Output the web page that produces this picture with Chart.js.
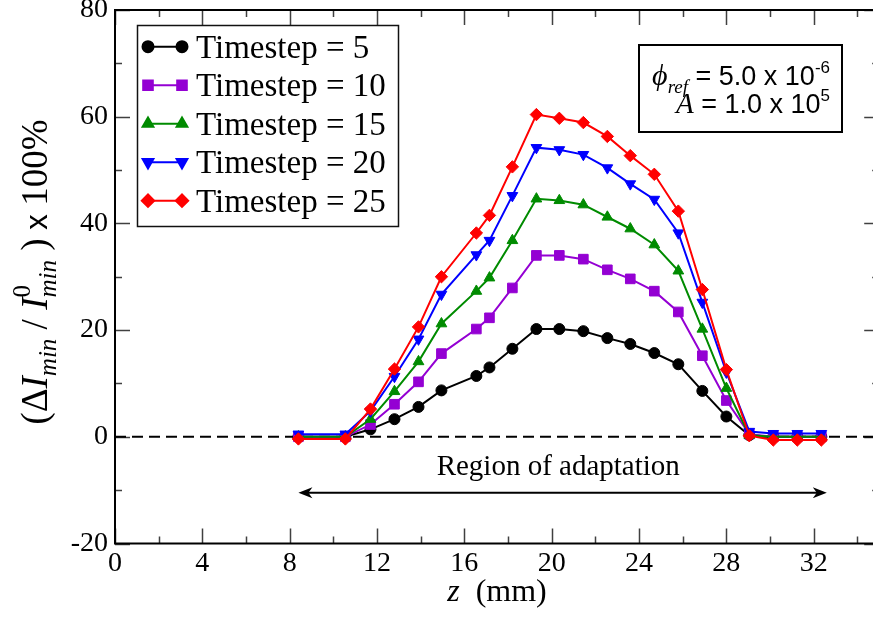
<!DOCTYPE html>
<html>
<head>
<meta charset="utf-8">
<title>Region of adaptation</title>
<script src="https://cdn.jsdelivr.net/npm/chart.js@4.4.1/dist/chart.umd.min.js"></script>
<style>
html,body{margin:0;padding:0;background:#fff;overflow:hidden}
#wrap{width:887px;height:617px}
</style>
</head>
<body>
<div id="wrap"><canvas id="grafica" width="887" height="617"></canvas></div>
<script>
// posiciones z (mm) y porcentaje para cada timestep
const zPos = [8.4,10.55,11.7,12.8,13.9,14.95,16.55,17.15,18.2,19.3,20.35,21.45,22.55,23.6,24.7,25.8,26.9,28.0,29.05,30.15,31.25,32.35]
const ts5 = [0,0,1.4,3.3,5.6,8.7,11.4,13.0,16.5,20.2,20.2,19.8,18.5,17.4,15.7,13.6,8.6,3.8,0.3,0,0,0]
const ts10 = [0,0,2.3,6.1,10.3,15.6,20.2,22.3,27.9,34.0,34.0,33.3,31.3,29.6,27.3,23.4,15.2,6.8,0.5,0,0,0]
const ts15 = [0,0,3.3,8.5,14.1,21.2,27.3,29.8,36.8,44.6,44.3,43.5,41.2,39.0,36.0,31.1,20.2,9.1,0.3,0,0,0]
const ts20 = [0.5,0.5,4.8,11.3,18.3,26.7,34.1,36.8,45.2,54.2,53.8,52.9,50.4,47.4,44.5,38.2,25.2,12.1,1.0,0.6,0.6,0.6]
const ts25 = [-0.4,-0.4,5.2,12.7,20.6,30.0,38.2,41.5,50.6,60.4,59.7,58.9,56.3,52.7,49.2,42.3,27.6,12.6,0.2,-0.6,-0.6,-0.6]

const etiquetas = ["Timestep = 5","Timestep = 10","Timestep = 15","Timestep = 20","Timestep = 25"]
const colores = ["#000000","#9400d3","#008b00","#0000ff","#ff0000"]
const marcadores = ["circle","rect","triangle","triangle","rectRot"]
const giros = [0,0,0,180,0]
const radios = [5.5,6.8,6.2,6.2,6.2]

// flecha de la region de adaptacion
const regionDesde = 8.4
const regionHasta = 32.6
const regionY = -10.5
const regionTexto = "Region of adaptation"

const SERIF = "'Liberation Serif','Times New Roman',serif"
const SANS = "'Liberation Sans',Arial,sans-serif"

const valores = [ts5,ts10,ts15,ts20,ts25]

const datasets = valores.map((serie,i)=>({
label:etiquetas[i],
data:zPos.map((z,j)=>({x:z,y:serie[j]})),
borderColor:colores[i],
backgroundColor:colores[i],
pointBackgroundColor:colores[i],
pointBorderColor:colores[i],
pointBorderWidth:1,
borderWidth:2,
pointStyle:marcadores[i],
pointRotation:giros[i],
pointRadius:radios[i],
order:5-i,
tension:0
}))

// linea discontinua en cero
datasets.push({
label:"cero",
data:[{x:0,y:0},{x:35,y:0}],
borderColor:"#000",
borderWidth:2,
borderDash:[11,6],
pointRadius:0,
order:10
})

// texto con subindices / superindices
function medir(ctx,partes){
let total = 0
partes.forEach(p=>{
if(p.pila){
let w = 0
p.pila.forEach(q=>{ctx.font=q.font; w=Math.max(w,ctx.measureText(q.t).width)})
total += w
}else{
ctx.font = p.font
total += ctx.measureText(p.t).width
}
})
return total
}

function escribir(ctx,partes,x,y){
let cx = x
partes.forEach(p=>{
if(p.pila){
let w = 0
p.pila.forEach(q=>{
ctx.font = q.font
ctx.fillText(q.t,cx,y+(q.dy||0))
w = Math.max(w,ctx.measureText(q.t).width)
})
cx += w
}else{
ctx.font = p.font
ctx.fillText(p.t,cx,y+(p.dy||0))
cx += ctx.measureText(p.t).width
}
})
}

const marco = {
id:"marco",
afterDatasetsDraw(chart){
const ctx = chart.ctx
const a = chart.chartArea
const sx = chart.scales.x
const sy = chart.scales.y
ctx.save()

// ticks hacia adentro en los cuatro lados
ctx.strokeStyle = "rgba(0,0,0,0.75)"
ctx.lineWidth = 1.5
ctx.beginPath()
sx.ticks.forEach(t=>{
const px = Math.round(sx.getPixelForValue(t.value))+0.5
const largo = t.value%4===0 ? 15 : 7
ctx.moveTo(px,a.bottom); ctx.lineTo(px,a.bottom-largo)
ctx.moveTo(px,a.top); ctx.lineTo(px,a.top+largo)
})
sy.ticks.forEach(t=>{
const py = Math.round(sy.getPixelForValue(t.value))+0.5
const largo = t.value%20===0 ? 15 : 7
ctx.moveTo(a.left,py); ctx.lineTo(a.left+largo,py)
ctx.moveTo(a.right,py); ctx.lineTo(a.right-largo,py)
})
ctx.stroke()

ctx.strokeStyle = "#000"
ctx.lineWidth = 2
ctx.strokeRect(a.left,a.top,a.right-a.left,a.bottom-a.top)
ctx.restore()
},
afterDraw(chart){
const ctx = chart.ctx
const sx = chart.scales.x
const sy = chart.scales.y
ctx.save()
ctx.fillStyle = "#000"
ctx.strokeStyle = "#000"

// flecha doble
const x1 = sx.getPixelForValue(regionDesde)
const x2 = sx.getPixelForValue(regionHasta)
const yf = sy.getPixelForValue(regionY)
ctx.lineWidth = 2
ctx.beginPath()
ctx.moveTo(x1+8,yf); ctx.lineTo(x2-8,yf)
ctx.stroke()
ctx.beginPath()
ctx.moveTo(x1,yf); ctx.lineTo(x1+14,yf-5.5); ctx.lineTo(x1+10,yf); ctx.lineTo(x1+14,yf+5.5); ctx.closePath()
ctx.moveTo(x2,yf); ctx.lineTo(x2-14,yf-5.5); ctx.lineTo(x2-10,yf); ctx.lineTo(x2-14,yf+5.5); ctx.closePath()
ctx.fill()

ctx.font = "29px "+SERIF
ctx.textAlign = "center"
ctx.textBaseline = "alphabetic"
ctx.fillText(regionTexto,sx.getPixelForValue(20.3),sy.getPixelForValue(-7.2))

// titulo eje x
ctx.textAlign = "left"
const tituloX = [
{t:"z",font:"italic 32px "+SERIF},
{t:"  (mm)",font:"32px "+SERIF}
]
const wx = medir(ctx,tituloX)
escribir(ctx,tituloX,497-wx/2,601)

// titulo eje y (rotado)
const tituloY = [
{t:"(",font:"37px "+SERIF},
{t:"\u0394",font:"37px "+SERIF},
{t:"I",font:"italic 37px "+SERIF},
{t:"min",font:"italic 25px "+SERIF,dy:9},
{t:" / ",font:"37px "+SERIF},
{t:"I",font:"italic 37px "+SERIF},
{pila:[{t:"0",font:"25px "+SERIF,dy:-17},{t:"min",font:"italic 25px "+SERIF,dy:9}]},
{t:" )",font:"37px "+SERIF},
{t:" x ",font:"31px "+SANS},
{t:"100%",font:"37px "+SERIF}
]
const wy = medir(ctx,tituloY)
ctx.save()
ctx.translate(47,272)
ctx.rotate(-Math.PI/2)
escribir(ctx,tituloY,-wy/2,0)
ctx.restore()

// leyenda
const lx = 137, ly = 25, lw = 261, lh = 201
ctx.fillStyle = "#fff"
ctx.fillRect(lx,ly,lw,lh)
ctx.lineWidth = 1.5
ctx.strokeStyle = "#111"
ctx.strokeRect(lx+0.5,ly+0.5,lw,lh)
etiquetas.forEach((txt,i)=>{
const fy = 46.7 + i*38.5
ctx.strokeStyle = colores[i]
ctx.fillStyle = colores[i]
ctx.lineWidth = 2
ctx.beginPath()
ctx.moveTo(148,fy); ctx.lineTo(182,fy)
ctx.stroke()
const op = {pointStyle:marcadores[i],rotation:giros[i],radius:radios[i],borderWidth:1}
Chart.helpers.drawPoint(ctx,op,148,fy)
Chart.helpers.drawPoint(ctx,op,182,fy)
ctx.fillStyle = "#000"
ctx.font = "33px "+SERIF
ctx.fillText(txt,196,fy+11)
})

// recuadro de parametros
ctx.fillStyle = "#fff"
ctx.fillRect(639,45,203,87)
ctx.strokeStyle = "#000"
ctx.lineWidth = 2
ctx.strokeRect(639,45,203,87)
ctx.fillStyle = "#000"
const linea1 = [
{t:"\u03d5",font:"italic 30px "+SERIF},
{t:"ref",font:"italic 19px "+SERIF,dy:8},
{t:" = 5.0 x 10",font:"27px "+SANS},
{t:"-6",font:"17px "+SANS,dy:-12}
]
const linea2 = [
{t:"A",font:"italic 29px "+SERIF},
{t:" = 1.0 x 10",font:"27px "+SANS},
{t:"5",font:"17px "+SANS,dy:-12}
]
escribir(ctx,linea1,830-medir(ctx,linea1),85)
escribir(ctx,linea2,830-medir(ctx,linea2),113)

ctx.restore()
}
}

new Chart(document.getElementById("grafica"),{
type:"line",
data:{datasets:datasets},
options:{
responsive:false,
animation:false,
devicePixelRatio:1,
layout:{padding:{top:10,right:2,left:0,bottom:0}},
plugins:{legend:{display:false},tooltip:{enabled:false}},
scales:{
x:{
type:"linear",
min:0,
max:35,
grid:{display:false,drawTicks:false},
border:{display:false},
afterFit(s){ s.height = 73.5; s.paddingLeft = 0; s.paddingRight = 0 },
ticks:{
stepSize:2,
includeBounds:false,
autoSkip:false,
maxRotation:0,
padding:3,
color:"#000",
font:{family:SERIF,size:28},
callback:v=> v%4===0 ? String(v) : ""
}
},
y:{
min:-20,
max:80,
grid:{display:false,drawTicks:false},
border:{display:false},
afterFit(s){ s.width = 115; s.paddingTop = 0; s.paddingBottom = 0 },
ticks:{
stepSize:10,
padding:7,
color:"#000",
font:{family:SERIF,size:28},
callback:v=> v%20===0 ? String(v) : ""
}
}
}
},
plugins:[marco]
})
</script>
</body>
</html>
